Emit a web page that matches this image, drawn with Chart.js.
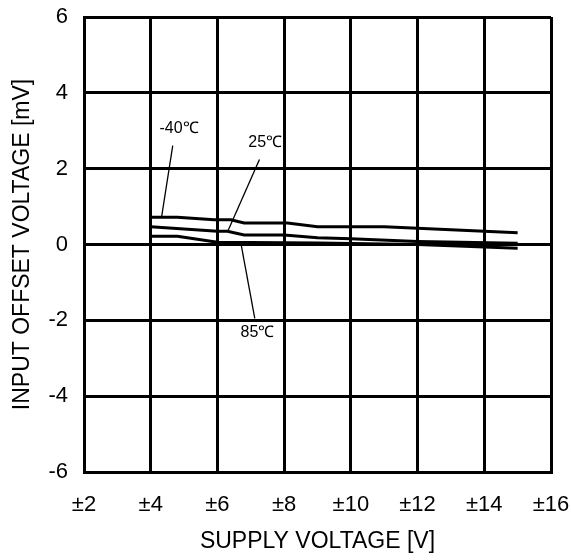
<!DOCTYPE html>
<html>
<head>
<meta charset="utf-8">
<script src="https://cdn.jsdelivr.net/npm/chart.js@4.4.0/dist/chart.umd.min.js"></script>
<style>
  html, body { margin: 0; padding: 0; background: #fff; }
  #wrap { width: 571px; height: 560px; }
</style>
</head>
<body>
<div id="wrap"><canvas id="offsetChart"></canvas></div>
<script>
// supply voltage (±V) vs input offset voltage (mV)
const xTicks = [2, 4, 6, 8, 10, 12, 14, 16];
const yTicks = [-6, -4, -2, 0, 2, 4, 6];

const vMinus40 = [4, 4.8, 5.9, 6.4, 6.8, 8.1, 9.0, 11.0, 12.0, 15];
const offMinus40 = [0.72, 0.72, 0.65, 0.65, 0.57, 0.57, 0.47, 0.47, 0.43, 0.31];

const v25 = [4, 6.0, 6.3, 6.8, 8.0, 9.0, 10.0, 12.0, 15];
const off25 = [0.47, 0.35, 0.35, 0.25, 0.25, 0.18, 0.15, 0.08, 0.03];

const v85 = [4, 4.8, 6.0, 9.0, 12.0, 15];
const off85 = [0.22, 0.22, 0.06, 0.04, 0.0, -0.1];

// label text, text position, leader line start/end (data units)
const labels = [
    { text: '-40℃', at: [4.85, 3.07], from: [4.66, 2.61], to: [4.33, 0.75] },
    { text: '25℃', at: [7.43, 2.69], from: [7.26, 2.24], to: [6.31, 0.35] },
    { text: '85℃', at: [7.2, -2.32], from: [7.12, -1.95], to: [6.70, 0.05] }
];

const FONT = '"Liberation Sans", Arial, sans-serif';

function toPoints(xs, ys) {
    return xs.map((x, i) => ({ x: x, y: ys[i] }));
}

// keep the plot box where the original has it
function noScalePadding(axis) {
    axis.paddingTop = 0;
    axis.paddingBottom = 0;
    axis.paddingLeft = 0;
    axis.paddingRight = 0;
}

const labelPlugin = {
    id: 'tempLabels',
    afterDatasetsDraw(chart) {
        const ctx = chart.ctx;
        const sx = chart.scales.x;
        const sy = chart.scales.y;
        ctx.save();
        ctx.strokeStyle = '#000';
        ctx.lineWidth = 1.3;
        ctx.fillStyle = '#000';
        ctx.font = '16px ' + FONT;
        ctx.textAlign = 'center';
        ctx.textBaseline = 'middle';
        labels.forEach(l => {
            ctx.beginPath();
            ctx.moveTo(sx.getPixelForValue(l.from[0]), sy.getPixelForValue(l.from[1]));
            ctx.lineTo(sx.getPixelForValue(l.to[0]), sy.getPixelForValue(l.to[1]));
            ctx.stroke();
            ctx.fillText(l.text, sx.getPixelForValue(l.at[0]), sy.getPixelForValue(l.at[1]));
        });
        ctx.restore();
    }
};

const lineStyle = {
    borderColor: '#000',
    borderWidth: 3,
    pointRadius: 0,
    tension: 0,
    fill: false
};

const ctx = document.getElementById('offsetChart').getContext('2d');
new Chart(ctx, {
    type: 'line',
    data: {
        datasets: [
            Object.assign({ label: '-40℃', data: toPoints(vMinus40, offMinus40) }, lineStyle),
            Object.assign({ label: '25℃', data: toPoints(v25, off25) }, lineStyle),
            Object.assign({ label: '85℃', data: toPoints(v85, off85) }, lineStyle)
        ]
    },
    options: {
        responsive: true,
        maintainAspectRatio: false,
        animation: false,
        layout: { padding: { top: 17, right: 20, left: 0, bottom: 0 } },
        plugins: {
            legend: { display: false },
            tooltip: { enabled: false }
        },
        scales: {
            x: {
                type: 'linear',
                min: 2,
                max: 16,
                afterBuildTicks: axis => { axis.ticks = xTicks.map(v => ({ value: v })); },
                afterFit: axis => { axis.height = 88; noScalePadding(axis); },
                ticks: {
                    color: '#000',
                    padding: 20,
                    font: { family: FONT, size: 22 },
                    callback: v => '±' + v
                },
                grid: { color: '#000', lineWidth: 3, drawTicks: false },
                border: { color: '#000', width: 3 },
                title: {
                    display: true,
                    text: 'SUPPLY VOLTAGE [V]',
                    color: '#000',
                    font: { family: FONT, size: 23 },
                    padding: { top: 0, bottom: 5 }
                }
            },
            y: {
                type: 'linear',
                min: -6,
                max: 6,
                afterBuildTicks: axis => { axis.ticks = yTicks.map(v => ({ value: v })); },
                afterFit: axis => { axis.width = 84; noScalePadding(axis); },
                ticks: {
                    color: '#000',
                    padding: 16,
                    font: { family: FONT, size: 22 }
                },
                grid: { color: '#000', lineWidth: 3, drawTicks: false },
                border: { color: '#000', width: 3 },
                title: {
                    display: true,
                    text: 'INPUT OFFSET VOLTAGE [mV]',
                    color: '#000',
                    font: { family: FONT, size: 23 },
                    padding: { top: 9, bottom: 0 }
                }
            }
        }
    },
    plugins: [labelPlugin]
});
</script>
</body>
</html>
